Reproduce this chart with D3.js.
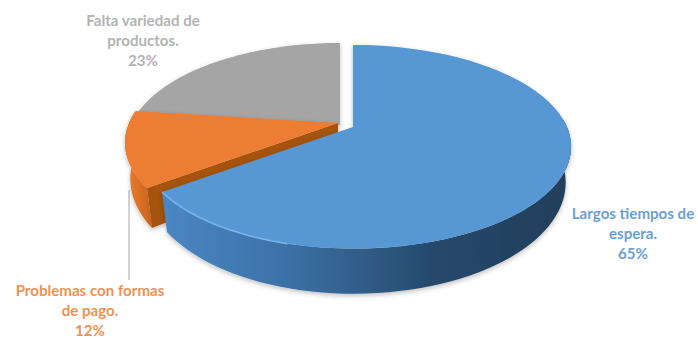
<!DOCTYPE html>
<html>
<head>
<meta charset="utf-8">
<script src="https://cdn.jsdelivr.net/npm/d3@7"></script>
<style>
html,body{margin:0;padding:0;background:#fff}
svg{display:block}
text{font-family:Lato,"Open Sans",sans-serif;font-weight:700;font-size:15.1px;text-anchor:middle}
</style>
</head>
<body>
<svg id="chart" width="698" height="341"></svg>
<script>
// Survey answers, in clockwise order from twelve o'clock
const categories = ["Largos tiempos de espera.", "Problemas con formas de pago.", "Falta variedad de productos."];
const shares = [65, 12, 23];
const percentLabels = ["65%", "12%", "23%"];
const labelLines = [["Largos tiempos de", "espera."], ["Problemas con formas", "de pago."], ["Falta variedad de", "productos."]];
const topColors = ["#5797d4", "#ed7d31", "#a5a5a5"];
const textColors = ["#6b9fd3", "#ee9252", "#b3b3b3"];
const labelCenters = [[633, 219], [90, 296], [143, 26]];

// Perspective model of the tilted disc; the left half is drawn slightly narrower
const tilt = 0.194, halfWidthRight = 214, halfWidthLeft = 209, halfDepth = 98;
const rimDrop = 34, rimWidth = 0.975, rimDepth = 107;
const origins = [[353, 127], [338, 123], [340, 125]];

const project = (angle, origin, isRim) => {
  const u = Math.sin(angle), v = -Math.cos(angle), w = 1 - tilt * v;
  const halfWidth = u < 0 ? halfWidthLeft : halfWidthRight;
  return isRim
    ? [origin[0] + rimWidth * halfWidth * u / w, origin[1] + rimDrop + rimDepth * v / w]
    : [origin[0] + halfWidth * u / w, origin[1] + halfDepth * v / w];
};

const arcs = d3.pie().sort(null)(shares);
const line = d3.line();
const svg = d3.select("#chart");
const defs = svg.append("defs");

const sweep = (a0, a1, origin, isRim) =>
  d3.range(0, 61).map(i => project(a0 + (a1 - a0) * i / 60, origin, isRim));

// Shading for the curved walls
const gradient = (id, stops) => {
  const g = defs.append("linearGradient").attr("id", id).attr("gradientUnits", "userSpaceOnUse")
    .attr("x1", stops.x1).attr("x2", stops.x2).attr("y1", 0).attr("y2", 0);
  stops.list.forEach(s => g.append("stop").attr("offset", s[0]).attr("stop-color", s[1]));
};
gradient("blueWall", {x1: 165, x2: 570, list: [[0, "#4a86c4"], [0.29, "#3d72a8"], [0.46, "#32608c"], [0.66, "#26496c"], [1, "#213e5a"]]});
gradient("orangeWall", {x1: 122, x2: 160, list: [[0, "#ee7f32"], [0.6, "#d56b22"], [1, "#a9530f"]]});

const shadow = defs.append("filter").attr("id", "soft").attr("x", "-5%").attr("y", "-5%").attr("width", "110%").attr("height", "115%");
shadow.append("feDropShadow").attr("dx", 0).attr("dy", 2).attr("stdDeviation", 2.5)
  .attr("flood-color", "#000").attr("flood-opacity", 0.25);
const edgeBlur = defs.append("filter").attr("id", "edge");
edgeBlur.append("feGaussianBlur").attr("stdDeviation", 0.7);

const topFace = i => {
  const a = arcs[i];
  return line([origins[i], ...sweep(a.startAngle, a.endAngle, origins[i], false)]) + "Z";
};
const wall = (i, a0, a1) =>
  line([...sweep(a0, a1, origins[i], false), ...sweep(a1, a0, origins[i], true)]) + "Z";

// Leader line for the orange slice sits behind the disc
svg.append("line").attr("x1", 129).attr("x2", 129).attr("y1", 190).attr("y2", 280)
  .attr("stroke", "#a6a6a6").attr("stroke-width", 1);

// Grey slice
svg.append("path").attr("d", topFace(2)).attr("fill", topColors[2]).attr("filter", "url(#soft)");

// Orange slice: outer wall, cut face, top
const orange = svg.append("g").attr("filter", "url(#soft)");
orange.append("path").attr("d", wall(1, arcs[1].startAngle, arcs[1].endAngle)).attr("fill", "url(#orangeWall)");
const tipTop = project(arcs[1].startAngle, origins[1], false);
const tipRim = project(arcs[1].startAngle, origins[1], true);
orange.append("path")
  .attr("d", line([origins[1], tipTop, tipRim, [origins[1][0], origins[1][1] + rimDrop]]) + "Z")
  .attr("fill", "#a5520f");
orange.append("path").attr("d", topFace(1)).attr("fill", topColors[1]);

// Blue slice: front wall, top, bright bevel along the front edge
const blue = svg.append("g").attr("filter", "url(#soft)");
blue.append("path").attr("d", wall(0, Math.PI / 2 * 0.95, arcs[0].endAngle)).attr("fill", "url(#blueWall)");
blue.append("path").attr("d", topFace(0)).attr("fill", topColors[0]);
svg.append("path")
  .attr("d", line(sweep(arcs[0].endAngle, 3.4, origins[0], false)))
  .attr("fill", "none").attr("stroke", "#78b4ea").attr("stroke-width", 1.6).attr("filter", "url(#edge)");

// Category labels with their percentages
labelLines.forEach((lines, i) => {
  const t = svg.append("text").attr("fill", textColors[i]);
  [...lines, percentLabels[i]].forEach((s, k) => {
    t.append("tspan").attr("x", labelCenters[i][0]).attr("y", labelCenters[i][1] + k * 20).text(s);
  });
});
</script>
</body>
</html>
